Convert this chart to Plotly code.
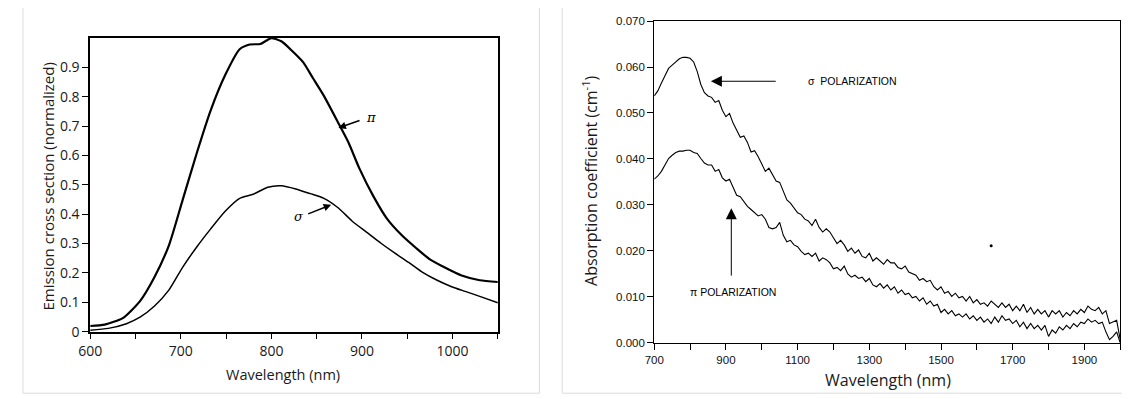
import plotly.graph_objects as go

# ---------------- Left panel data (emission, normalized) ----------------
em_wl_pi = [600, 616, 636, 655, 671, 687, 702, 718, 733, 749, 765, 776, 788, 800, 811, 823, 835,
            846, 858, 874, 885, 897, 913, 928, 944, 960, 975, 991, 1010, 1030, 1050]
em_pi = [0.019, 0.024, 0.046, 0.104, 0.186, 0.295, 0.448, 0.612, 0.754, 0.874, 0.962, 0.978, 0.980,
         1.0, 0.989, 0.956, 0.918, 0.863, 0.803, 0.710, 0.645, 0.557, 0.459, 0.383, 0.328, 0.284,
         0.246, 0.219, 0.191, 0.175, 0.169]
em_wl_sigma = [600, 620, 640, 655, 671, 687, 702, 718, 733, 749, 765, 780, 796, 811, 827, 843, 858,
               874, 889, 905, 921, 936, 952, 967, 983, 999, 1014, 1030, 1050]
em_sigma = [0.005, 0.011, 0.027, 0.049, 0.087, 0.142, 0.219, 0.290, 0.350, 0.410, 0.454, 0.468,
            0.492, 0.497, 0.486, 0.470, 0.454, 0.421, 0.377, 0.339, 0.301, 0.268, 0.235, 0.202,
            0.175, 0.153, 0.137, 0.120, 0.098]
em_yticks = [0, 0.1, 0.2, 0.3, 0.4, 0.5, 0.6, 0.7, 0.8, 0.9]
em_ytext = ["0", "0.1", "0.2", "0.3", "0.4", "0.5", "0.6", "0.7", "0.8", "0.9"]
em_xticks = [600, 700, 800, 900, 1000]

# ---------------- Right panel data (absorption, cm^-1) ----------------
ab_wl = list(range(700, 2001, 10))
ab_sigma = [0.0537, 0.0548, 0.0565, 0.0583, 0.0597, 0.0604, 0.0612, 0.0618, 0.0621, 0.0621,
            0.0619, 0.0611, 0.0590, 0.0562, 0.0544, 0.0537, 0.0534, 0.0523, 0.0527, 0.0506,
            0.0492, 0.0499, 0.0478, 0.0461, 0.0447, 0.0450, 0.0436, 0.0415, 0.0418, 0.0405,
            0.0387, 0.0373, 0.0380, 0.0366, 0.0352, 0.0349, 0.0331, 0.0311, 0.0304, 0.0293,
            0.0283, 0.0279, 0.0269, 0.0265, 0.0255, 0.0269, 0.0251, 0.0241, 0.0248, 0.0241,
            0.0227, 0.0216, 0.0223, 0.0213, 0.0199, 0.0206, 0.0195, 0.0202, 0.0188, 0.0185,
            0.0195, 0.0178, 0.0185, 0.0178, 0.0171, 0.0181, 0.0174, 0.0174, 0.0164, 0.0161,
            0.0167, 0.0154, 0.0150, 0.0147, 0.0136, 0.0140, 0.0133, 0.0136, 0.0122, 0.0115,
            0.0122, 0.0108, 0.0112, 0.0101, 0.0108, 0.0098, 0.0101, 0.0091, 0.0101, 0.0087,
            0.0094, 0.0084, 0.0087, 0.0080, 0.0091, 0.0084, 0.0077, 0.0087, 0.0077, 0.0084,
            0.0070, 0.0080, 0.0070, 0.0084, 0.0066, 0.0077, 0.0063, 0.0073, 0.0063, 0.0070,
            0.0056, 0.0070, 0.0063, 0.0070, 0.0056, 0.0066, 0.0059, 0.0070, 0.0063, 0.0073,
            0.0066, 0.0080, 0.0073, 0.0070, 0.0077, 0.0063, 0.0070, 0.0042, 0.0045, 0.0049,
            0.0007]
ab_pi = [0.0356, 0.0363, 0.0373, 0.0387, 0.0401, 0.0408, 0.0414, 0.0417, 0.0417, 0.0419,
         0.0419, 0.0414, 0.0412, 0.0401, 0.0391, 0.0387, 0.0387, 0.0373, 0.0377, 0.0359,
         0.0352, 0.0356, 0.0338, 0.0321, 0.0318, 0.0307, 0.0297, 0.0290, 0.0283, 0.0276,
         0.0279, 0.0269, 0.0251, 0.0248, 0.0251, 0.0262, 0.0234, 0.0220, 0.0223, 0.0213,
         0.0209, 0.0199, 0.0192, 0.0195, 0.0188, 0.0195, 0.0178, 0.0185, 0.0181, 0.0174,
         0.0161, 0.0164, 0.0157, 0.0167, 0.0150, 0.0143, 0.0147, 0.0140, 0.0143, 0.0133,
         0.0140, 0.0126, 0.0122, 0.0129, 0.0119, 0.0126, 0.0115, 0.0122, 0.0108, 0.0115,
         0.0105, 0.0108, 0.0098, 0.0101, 0.0091, 0.0098, 0.0084, 0.0091, 0.0080, 0.0084,
         0.0066, 0.0073, 0.0063, 0.0070, 0.0059, 0.0063, 0.0056, 0.0063, 0.0052, 0.0059,
         0.0049, 0.0056, 0.0045, 0.0052, 0.0042, 0.0056, 0.0045, 0.0059, 0.0049, 0.0052,
         0.0042, 0.0049, 0.0035, 0.0045, 0.0031, 0.0042, 0.0031, 0.0038, 0.0028, 0.0038,
         0.0014, 0.0028, 0.0021, 0.0035, 0.0028, 0.0038, 0.0031, 0.0042, 0.0035, 0.0045,
         0.0042, 0.0052, 0.0045, 0.0049, 0.0042, 0.0045, 0.0024, 0.0007, 0.0014, 0.0024,
         0.0000]
speck_wl = [1640]
speck_val = [0.0211]

TICK_FONT_L = dict(family="Open Sans", size=14, color="#1a1a1a")
TICK_FONT_R = dict(family="Liberation Sans", size=11.5, color="#111111")

fig = go.Figure()

# left curves
fig.add_trace(go.Scatter(x=em_wl_pi, y=em_pi, mode="lines", line=dict(color="black", width=2.2, shape="spline", smoothing=0.6),
                         xaxis="x", yaxis="y", showlegend=False, hoverinfo="skip"))
fig.add_trace(go.Scatter(x=em_wl_sigma, y=em_sigma, mode="lines", line=dict(color="black", width=1.5, shape="spline", smoothing=0.6),
                         xaxis="x", yaxis="y", showlegend=False, hoverinfo="skip"))
# right curves
fig.add_trace(go.Scatter(x=ab_wl, y=ab_sigma, mode="lines", line=dict(color="black", width=1.1),
                         xaxis="x2", yaxis="y2", showlegend=False, hoverinfo="skip"))
fig.add_trace(go.Scatter(x=ab_wl, y=ab_pi, mode="lines", line=dict(color="black", width=1.1),
                         xaxis="x2", yaxis="y2", showlegend=False, hoverinfo="skip"))
fig.add_trace(go.Scatter(x=speck_wl, y=speck_val, mode="markers", marker=dict(color="black", size=3),
                         xaxis="x2", yaxis="y2", showlegend=False, hoverinfo="skip"))

axis_common = dict(showgrid=False, zeroline=False, showline=True, linecolor="black", mirror=True,
                   ticks="outside", tickcolor="black", ticklen=6)

fig.update_layout(
    width=1130, height=399,
    margin=dict(l=0, r=0, t=0, b=0),
    paper_bgcolor="white", plot_bgcolor="white",
    xaxis=dict(domain=[0.0628, 0.4274], range=[600, 1050], tickvals=em_xticks, tickfont=TICK_FONT_L,
               linewidth=1.6, minor=dict(dtick=50, tick0=600, ticks="outside", ticklen=6, tickcolor="black"),
               anchor="y", **axis_common),
    yaxis=dict(domain=[0.1729, 0.9373], range=[0, 1.0], tickvals=em_yticks, ticktext=em_ytext,
               tickfont=TICK_FONT_L, linewidth=1.6, anchor="x", **axis_common),
    xaxis2=dict(domain=[0.5673, 0.9841], range=[700, 2000], tick0=700, dtick=200, tickfont=TICK_FONT_R,
                linewidth=1.2, minor=dict(dtick=100, tick0=700, ticks="outside", ticklen=6, tickcolor="black"),
                anchor="y2", **axis_common),
    yaxis2=dict(domain=[0.1436, 0.9817], range=[0, 0.07], dtick=0.01, tickformat=".3f",
                tickfont=TICK_FONT_R, linewidth=1.2, anchor="x2", **axis_common),
)

# panel frames
fig.add_shape(type="rect", xref="paper", yref="paper", x0=3/1130, x1=525/1130, y0=1-394/399, y1=1.05,
              line=dict(color="#dcdcdc", width=1), layer="below")
fig.add_shape(type="rect", xref="paper", yref="paper", x0=548/1130, x1=1.05, y0=1-394/399, y1=1.05,
              line=dict(color="#dcdcdc", width=1), layer="below")

C = dict(xanchor="center", yanchor="middle", showarrow=False)
ann = []
# axis titles
ann.append(dict(text="Emission cross section (normalized)", xref="paper", yref="paper", x=28/1130, y=0.550,
                textangle=-90, font=dict(family="Open Sans", size=15, color="#1a1a1a"), **C))
ann.append(dict(text="Wavelength (nm)", xref="paper", yref="paper", x=266/1130, y=1-375/399,
                font=dict(family="Open Sans", size=14.5, color="#1a1a1a"), **C))
ann.append(dict(text="Absorption coefficient (cm<sup>-1</sup>)", xref="paper", yref="paper", x=576/1130, y=0.565,
                textangle=-90, font=dict(family="Open Sans", size=16, color="#1a1a1a"), **C))
ann.append(dict(text="Wavelength (nm)", xref="paper", yref="paper", x=877/1130, y=1-380/399,
                font=dict(family="Open Sans", size=16, color="#1a1a1a"), **C))
# left arrows and labels
ann.append(dict(x=874, y=0.694, ax=899, ay=0.721, xref="x", yref="y", axref="x", ayref="y", text="",
                showarrow=True, arrowhead=2, arrowsize=1, arrowwidth=1.5, arrowcolor="black"))
ann.append(dict(x=902, y=0.728, xref="x", yref="y", text="π", showarrow=False, xanchor="left", yanchor="middle",
                font=dict(family="DejaVu Serif", size=13, color="black", style="italic")))
ann.append(dict(x=866, y=0.432, ax=839, ay=0.399, xref="x", yref="y", axref="x", ayref="y", text="",
                showarrow=True, arrowhead=2, arrowsize=1, arrowwidth=1.5, arrowcolor="black"))
ann.append(dict(x=838, y=0.392, xref="x", yref="y", text="σ", showarrow=False, xanchor="right", yanchor="middle",
                font=dict(family="DejaVu Serif", size=13, color="black", style="italic")))
# right arrows and labels
ann.append(dict(x=858, y=0.0569, ax=1043, ay=0.0569, xref="x2", yref="y2", axref="x2", ayref="y2", text="",
                showarrow=True, arrowhead=2, arrowsize=2.2, arrowwidth=1, arrowcolor="black"))
ann.append(dict(x=1123, y=0.0569, xref="x2", yref="y2", text="σ  POLARIZATION", showarrow=False,
                xanchor="left", yanchor="middle", font=dict(family="Liberation Sans", size=10.5, color="black")))
ann.append(dict(x=915, y=0.0293, ax=915, ay=0.0143, xref="x2", yref="y2", axref="x2", ayref="y2", text="",
                showarrow=True, arrowhead=2, arrowsize=2.2, arrowwidth=1, arrowcolor="black"))
ann.append(dict(x=793, y=0.0110, xref="x2", yref="y2", text="π POLARIZATION", showarrow=False,
                xanchor="left", yanchor="middle", font=dict(family="Liberation Sans", size=10.5, color="black")))
fig.update_layout(annotations=ann)

fig.write_html("out.html")
